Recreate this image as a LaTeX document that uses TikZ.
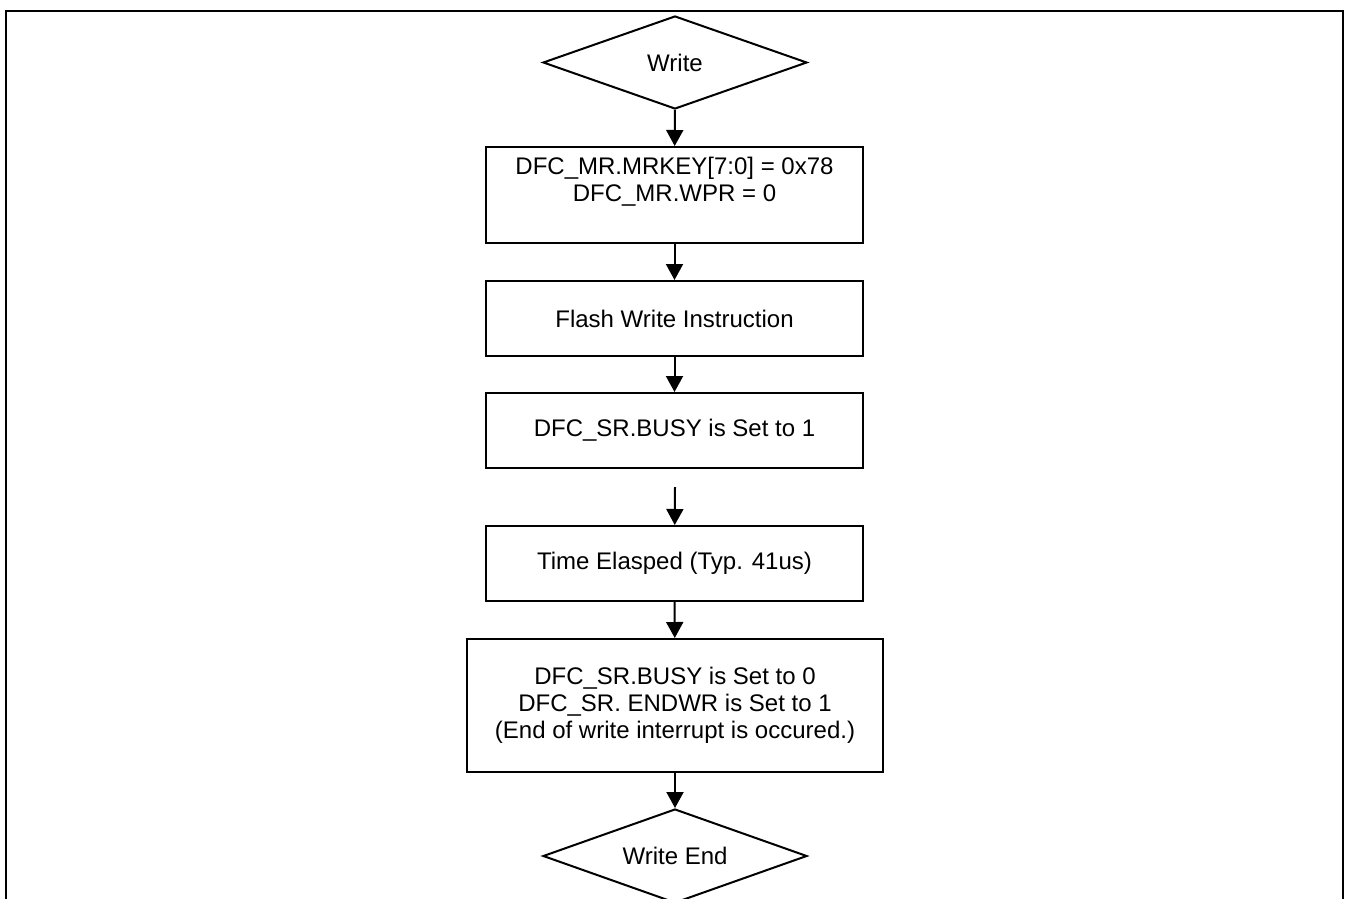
\documentclass[tikz,border=0pt]{standalone}
\usepackage{fontspec}
\setmainfont{Liberation Sans}
\usetikzlibrary{shapes.geometric, arrows.meta}

\begin{document}
\begin{tikzpicture}[
    x=0.5pt, y=-0.5pt,
    >={Triangle[length=8pt, width=8.5pt]},
    font=\fontsize{12}{13.5}\selectfont,
    base/.style={draw, align=center, line width=1pt, inner sep=2pt},
    decision/.style={base, diamond, aspect=2.8, minimum width=132pt, minimum height=46.5pt},
    process/.style={base, rectangle, minimum width=188.5pt, minimum height=37.5pt},
    arrow/.style={->, line width=1pt}
  ]
    \useasboundingbox (0,0) rectangle (1349,899);
    \clip (0,0) rectangle (1349,899);
    % outer frame, open at the bottom
    \draw[line width=1pt] (6,920) -- (6,11) -- (1343,11) -- (1343,920);
    \node[decision] (write) at (675,62.5) {Write};
    \node[process, minimum height=48pt] (setkey) at (674.5,195)
    {DFC\_MR.MRKEY[7:0] = 0x78\\
     DFC\_MR.WPR = 0\\[2.5pt]};
    \node[process] (flashwr) at (674.5,318.5) {Flash Write Instruction};
    \node[process] (busyset) at (674.5,430.5) {DFC\_SR.BUSY is Set to 1};
    \node[process] (elapsed) at (674.5,563.5) {Time Elasped (Typ. 41us)};
    \node[process, minimum width=208pt, minimum height=66.5pt] (busyclr) at (675,705.5)
    {DFC\_SR.BUSY is Set to 0\\
     DFC\_SR. ENDWR is Set to 1\\
     (End of write interrupt is occured.)};
    \node[decision, minimum height=47pt] (writeend) at (675,856) {Write End};
    \coordinate (gap) at (675,487);
    \draw[arrow] (write) -- (setkey);
    \draw[arrow] (setkey) -- (flashwr);
    \draw[arrow] (flashwr) -- (busyset);
    \draw[arrow] (gap) -- (elapsed);
    \draw[arrow] (elapsed) -- (busyclr);
    \draw[arrow] (busyclr) -- (writeend);
  \end{tikzpicture}
\end{document}
